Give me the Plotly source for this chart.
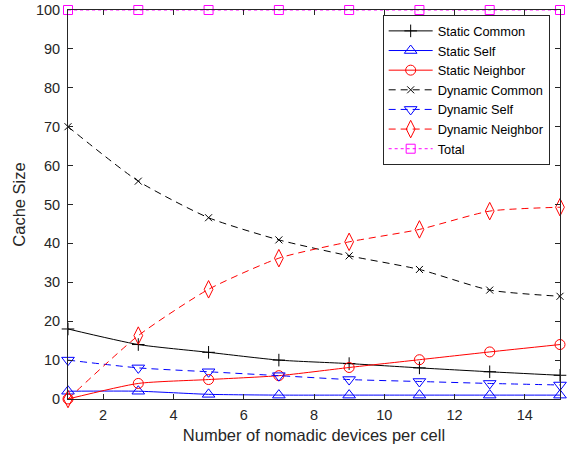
import plotly.graph_objects as go

# Number of nomadic devices per cell
devices = [1, 3, 5, 7, 9, 11, 13, 15]

# Cache size per strategy
static_common = [18, 14, 12, 10, 9.1, 8, 7, 6.1]
static_self = [2, 2, 1.2, 1, 1, 1, 1, 1]
static_neighbor = [0, 4, 5, 6, 8.1, 10.1, 12.1, 14]
dynamic_common = [70, 56, 46.6, 40.9, 36.8, 33.3, 28, 26.4]
dynamic_self = [10, 8, 7, 6, 5, 4.5, 4, 3.6]
dynamic_neighbor = [0, 16.3, 28.2, 36.2, 40.4, 43.6, 48.3, 49.3]
total = [100, 100, 100, 100, 100, 100, 100, 100]

FONT = "Liberation Sans, Arial, sans-serif"
TXT = "#262626"
DASH = "7px,5px"

series = [
    ("Static Common", static_common, "#000000", "solid", "cross-thin", 9),
    ("Static Self", static_self, "#0000FF", "solid", "triangle-up-open", 11),
    ("Static Neighbor", static_neighbor, "#FF0000", "solid", "circle-open", 10),
    ("Dynamic Common", dynamic_common, "#000000", DASH, "x-thin", 7),
    ("Dynamic Self", dynamic_self, "#0000FF", DASH, "triangle-down-open", 11),
    ("Dynamic Neighbor", dynamic_neighbor, "#FF0000", DASH, "diamond-tall-open", 12.5),
    ("Total", total, "#FF00FF", "dot", "square-open", 9),
]

fig = go.Figure()
for name, ys, color, dash, symbol, size in series:
    fig.add_trace(go.Scatter(
        x=devices, y=ys, name=name, mode="lines+markers",
        line=dict(color=color, width=1, dash=dash, shape="spline", smoothing=0.6),
        marker=dict(symbol=symbol, size=size, color=color,
                    line=dict(color=color, width=1)),
        cliponaxis=False,
    ))

axis_common = dict(
    showline=True, linecolor=TXT, linewidth=1, mirror="allticks",
    ticks="inside", ticklen=5, tickcolor=TXT, tickwidth=1,
    showgrid=False, zeroline=False, automargin=False,
    tickfont=dict(family=FONT, size=14.5, color=TXT),
)

fig.update_layout(
    width=570, height=449,
    margin=dict(l=68, r=10, t=10, b=50),
    paper_bgcolor="white", plot_bgcolor="white",
    font=dict(family=FONT, color=TXT),
    xaxis=dict(range=[1, 15], tickvals=[2, 4, 6, 8, 10, 12, 14],
               ticklabelstandoff=3,
               title=dict(text="Number of nomadic devices per cell",
                          font=dict(family=FONT, size=16.5, color=TXT), standoff=7),
               **axis_common),
    yaxis=dict(range=[0, 100], tickvals=list(range(0, 101, 10)),
               ticklabelstandoff=4,
               title=dict(text="Cache Size",
                          font=dict(family=FONT, size=16.5, color=TXT), standoff=6),
               **axis_common),
    legend=dict(x=0.979, y=0.987, xanchor="right", yanchor="top",
                bgcolor="white", bordercolor=TXT, borderwidth=1,
                font=dict(family=FONT, size=12.8, color="#000000"),
                tracegroupgap=0, itemwidth=44),
    showlegend=True,
)

fig.write_html("out.html")
